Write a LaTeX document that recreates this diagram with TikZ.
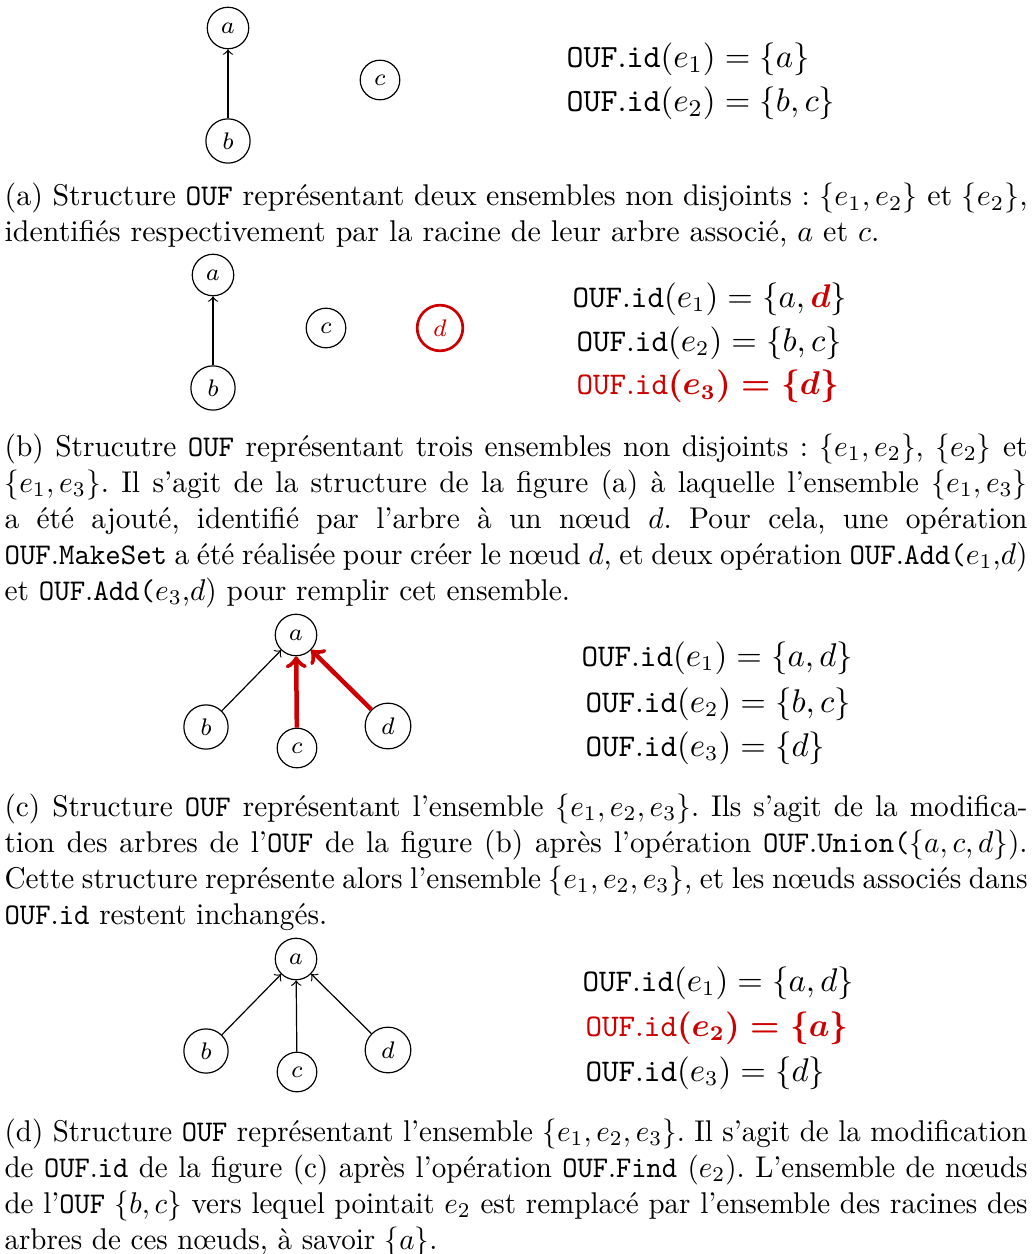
\documentclass[tikz,border=0pt]{standalone}
\usepackage{fontspec}
\usepackage{amsmath}
\usepackage{graphicx}
\definecolor{ufred}{RGB}{204,0,0}
\newcommand{\ouf}{\texttt{OUF}}
\newcommand{\oufid}{\texttt{OUF}.\texttt{id}}
% justified caption paragraph, horizontally scaled by #1, final width 341pt
\newcommand{\capbox}[2]{\scalebox{#1}[1]{\parbox[t]{\dimexpr 341pt*1000/\numexpr\fpeval{round(#1*1000)}\relax\relax}{\frenchspacing\tolerance=10000\hbadness=10000\hyphenpenalty=10000\strut #2}}}
\begin{document}
\begin{tikzpicture}[x=0.33333pt, y=-0.33333pt,
  vertex/.style={circle, draw, inner sep=2.9pt, line width=0.4pt, font=\fontsize{8}{10}\selectfont},
  newvertex/.style={vertex, draw=ufred, text=ufred, line width=0.9pt},
  link/.style={->, line width=0.4pt},
  newlink/.style={->, draw=ufred, line width=1.5pt},
  idline/.style={anchor=base west, inner sep=0pt, font=\fontsize{10.5}{13}\selectfont},
  bigidline/.style={idline, font=\fontsize{10.8}{14}\selectfont},
  caption/.style={anchor=base west, inner sep=0pt, font=\fontsize{10}{12}\selectfont}]
\useasboundingbox (0,0) rectangle (1032,1254);

% ---------- (a) ----------
\node[vertex] (a1) at (228,28) {$a$};
\node[vertex] (b1) at (228,141) {$b$};
\node[vertex] (c1) at (380,80) {$c$};
\draw[link] (b1) -- (a1);
\node[bigidline] (ida1) at (566,68) {\oufid$(e_1) = \{a\}$};
\node[bigidline] (ida2) at (566,112) {\oufid$(e_2) = \{b, c\}$};
\node[caption] (capa) at (4,206) {\capbox{1}{(a) Structure \ouf{} représentant deux ensembles non disjoints : $\{e_1, e_2\}$ et $\{e_2\}$,\linebreak identifiés respectivement par la racine de leur arbre associé, $a$ et $c$.}};

% ---------- (b) ----------
\node[vertex] (a2) at (213,275) {$a$};
\node[vertex] (b2) at (213,388) {$b$};
\node[vertex] (c2) at (326,328) {$c$};
\node[newvertex] (d2) at (440,328) {$d$};
\draw[link] (b2) -- (a2);
\node[idline] (idb1) at (572,307) {\oufid$(e_1) = \{a, \textcolor{ufred}{\boldsymbol{d}}\}$};
\node[idline] (idb2) at (576,351) {\oufid$(e_2) = \{b, c\}$};
\node[idline, text=ufred] (idb3) at (576,395) {\oufid$\boldsymbol{(e_3) = \{d\}}$};
\node[caption] (capb) at (4,456) {\capbox{0.98}{(b) Strucutre \ouf{} représentant trois ensembles non disjoints : $\{e_1, e_2\}$, $\{e_2\}$ et\linebreak $\{e_1, e_3\}$. Il s'agit de la structure de la figure (a) à laquelle l'ensemble $\{e_1, e_3\}$\linebreak a été ajouté, identifié par l'arbre à un nœud $d$. Pour cela, une opération\linebreak \ouf.\texttt{MakeSet} a été réalisée pour créer le nœud $d$, et deux opération \ouf.\texttt{Add(}$e_1$,$d$)\linebreak et \ouf.\texttt{Add(}$e_3$,$d$) pour remplir cet ensemble.}};

% ---------- (c) ----------
\node[vertex] (a3) at (296,635) {$a$};
\node[vertex] (b3) at (206,727) {$b$};
\node[vertex] (c3) at (297,748) {$c$};
\node[vertex] (d3) at (388,726) {$d$};
\draw[link] (b3) -- (a3);
\draw[newlink] (c3) -- (a3);
\draw[newlink] (d3) -- (a3);
\node[idline] (idc1) at (581,666) {\oufid$(e_1) = \{a, d\}$};
\node[idline] (idc2) at (585,712) {\oufid$(e_2) = \{b, c\}$};
\node[idline] (idc3) at (585,756) {\oufid$(e_3) = \{d\}$};
\node[caption] (capc) at (4,816) {\capbox{0.975}{(c) Structure \ouf{} représentant l'ensemble $\{e_1, e_2, e_3\}$. Ils s'agit de la modifica-\linebreak tion des arbres de l'\ouf{} de la figure (b) après l'opération \ouf.\texttt{Union(}$\{a, c, d\}$).\linebreak Cette structure représente alors l'ensemble $\{e_1, e_2, e_3\}$, et les nœuds associés dans\linebreak \ouf.\texttt{id} restent inchangés.}};

% ---------- (d) ----------
\node[vertex] (a4) at (296,959) {$a$};
\node[vertex] (b4) at (206,1051) {$b$};
\node[vertex] (c4) at (297,1072) {$c$};
\node[vertex] (d4) at (388,1050) {$d$};
\draw[link] (b4) -- (a4);
\draw[link] (c4) -- (a4);
\draw[link] (d4) -- (a4);
\node[idline] (idd1) at (582,991) {\oufid$(e_1) = \{a, d\}$};
\node[idline, text=ufred] (idd2) at (585,1036) {\oufid$\boldsymbol{(e_2) = \{a\}}$};
\node[idline] (idd3) at (585,1081) {\oufid$(e_3) = \{d\}$};
\node[caption] (capd) at (4,1141) {\capbox{0.967}{(d) Structure \ouf{} représentant l'ensemble $\{e_1, e_2, e_3\}$. Il s'agit de la modification\linebreak de \ouf.\texttt{id} de la figure (c) après l'opération \ouf.\texttt{Find} $(e_2)$. L'ensemble de nœuds\linebreak de l'\ouf{} $\{b, c\}$ vers lequel pointait $e_2$ est remplacé par l'ensemble des racines des\linebreak arbres de ces nœuds, à savoir $\{a\}$.}};
\end{tikzpicture}
\end{document}
